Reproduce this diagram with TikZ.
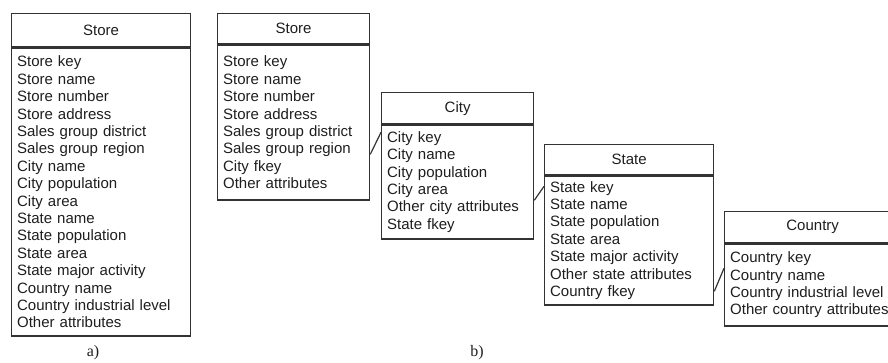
\documentclass[tikz,border=0pt]{standalone}
\usepackage{fontspec}
\setmainfont{Liberation Sans}
\newfontfamily\labelfont{Liberation Serif}
\usetikzlibrary{calc}
\definecolor{rule}{HTML}{333333}
\definecolor{ink}{HTML}{1E1E1E}
\tikzset{
  tbl/.style={draw=rule, line width=1.3pt, rectangle, inner ysep=0pt,
    text=ink, font=\fontsize{15}{17.4}\selectfont, anchor=north west},
  tblhead/.style={tbl, inner xsep=6pt, align=center},
  tblbody/.style={tbl, inner xsep=5.5pt, align=left},
  link/.style={draw=rule, line width=1.2pt},
  caption/.style={text=ink, font=\labelfont\fontsize{16}{18}\selectfont}
}
\begin{document}
\begin{tikzpicture}[x=1pt, y=-1pt]
\useasboundingbox (0,0) rectangle (888,363);
\clip (0,0) rectangle (888,363);

% a) single denormalised store table
\node[tblhead, minimum width=179pt, text width=167pt, minimum height=33pt] (sa-t) at (11,13) {Store};
\node[tblbody, minimum width=179pt, text width=168pt, minimum height=288pt] (sa-b) at (sa-t.south west) {Store key\\Store name\\Store number\\Store address\\Sales group district\\Sales group region\\City name\\City population\\City area\\State name\\State population\\State area\\State major activity\\Country name\\Country industrial level\\Other attributes};

% b) snowflaked tables
\node[tblhead, minimum width=152pt, text width=140pt, minimum height=30pt] (sb-t) at (217,13) {Store};
\node[tblbody, minimum width=152pt, text width=141pt, minimum height=155pt] (sb-b) at (sb-t.south west) {Store key\\Store name\\Store number\\Store address\\Sales group district\\Sales group region\\City fkey\\Other attributes};

\node[tblhead, minimum width=152pt, text width=140pt, minimum height=31pt] (ci-t) at (381,92) {City};
\node[tblbody, minimum width=152pt, text width=141pt, minimum height=114pt] (ci-b) at (ci-t.south west) {City key\\City name\\City population\\City area\\Other city attributes\\State fkey};

\node[tblhead, minimum width=169pt, text width=157pt, minimum height=30pt] (st-t) at (544,144) {State};
\node[tblbody, minimum width=169pt, text width=158pt, minimum height=129pt] (st-b) at (st-t.south west) {State key\\State name\\State population\\State area\\State major activity\\Other state attributes\\Country fkey};

\node[tblhead, minimum width=176pt, text width=164pt, minimum height=31pt] (co-t) at (724,211) {Country};
\node[tblbody, minimum width=176pt, text width=165pt, minimum height=82pt] (co-b) at (co-t.south west) {Country key\\Country name\\Country industrial level\\Other country attributes};

% foreign-key links
\coordinate (sb-out) at ($(sb-b.north east)+(0,110)$);
\coordinate (ci-in)  at ($(ci-b.north west)+(0,8)$);
\coordinate (ci-out) at ($(ci-b.north east)+(0,76)$);
\coordinate (st-in)  at ($(st-b.north west)+(0,11)$);
\coordinate (st-out) at ($(st-b.north east)+(0,116)$);
\coordinate (co-in)  at ($(co-b.north west)+(0,25)$);
\draw[link] (sb-out) -- (ci-in);
\draw[link] (ci-out) -- (st-in);
\draw[link] (st-out) -- (co-in);

% captions
\node[caption] (cap-a) at (93,353) {a)};
\node[caption] (cap-b) at (477,353) {b)};
\end{tikzpicture}
\end{document}
